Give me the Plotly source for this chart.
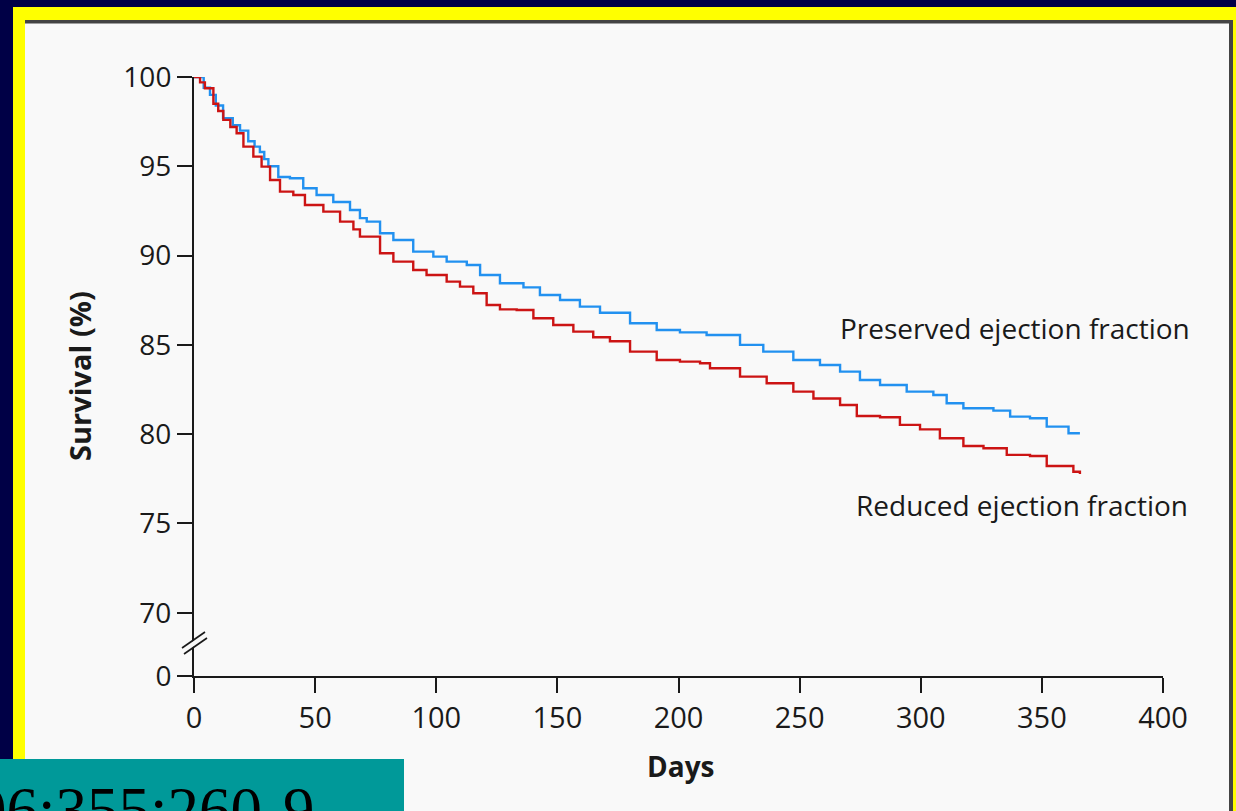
import plotly.graph_objects as go

W, H = 1236, 811

# ---------------- data ----------------
days_preserved = [0, 4, 6.6, 9, 12, 16, 19, 22.4, 25, 27.2, 29, 30.7, 34.8, 39.6, 45.1, 50.6,
                  57.5, 64.4, 68.5, 71.3, 76.8, 82.3, 90.5, 98.8, 104.3, 112.6, 118.1, 126.3,
                  136, 142.8, 151.1, 159.3, 167.6, 180, 191, 200.6, 211.6, 225.4, 235, 247.4,
                  258.4, 266.7, 274.9, 283.2, 294.2, 305.2, 310.7, 317.6, 330, 336.9, 345.1,
                  352, 361, 365.7]
surv_preserved = [100, 99.4, 99.0, 98.4, 97.7, 97.3, 97.0, 96.4, 96.1, 95.8, 95.4, 95.0, 94.4,
                  94.33, 93.77, 93.39, 93.0, 92.55, 92.1, 91.9, 91.25, 90.87, 90.22, 89.94,
                  89.66, 89.47, 88.91, 88.45, 88.22, 87.79, 87.51, 87.14, 86.8, 86.21, 85.83,
                  85.7, 85.55, 85.0, 84.62, 84.15, 83.87, 83.5, 83.03, 82.75, 82.38, 82.19,
                  81.73, 81.45, 81.32, 80.98, 80.89, 80.42, 80.05, 80.05]

days_reduced = [0, 2.5, 4.5, 8, 10, 12.1, 15, 17.6, 20.4, 24.5, 27.9, 31.4, 35.5, 41, 45.8,
                53.4, 60.3, 65.8, 68.5, 76.8, 82.3, 90.5, 96, 104.3, 109.8, 115.3, 120.8,
                126.3, 133.2, 140.1, 148.3, 156.6, 164.8, 171.7, 180, 191, 200.6, 208.9, 213,
                225.4, 236.4, 247.4, 255.7, 266.7, 273.6, 283.2, 291.4, 299.7, 307.9, 317.6,
                325.9, 335.5, 345.1, 352, 363, 365.7]
surv_reduced = [100, 99.7, 99.37, 98.5, 98.1, 97.6, 97.2, 96.85, 96.1, 95.54, 94.98, 94.23,
                93.58, 93.39, 92.83, 92.46, 91.9, 91.47, 91.06, 90.13, 89.66, 89.19, 88.91,
                88.54, 88.26, 87.89, 87.23, 86.99, 86.95, 86.49, 86.11, 85.74, 85.43, 85.2,
                84.62, 84.15, 84.06, 83.97, 83.69, 83.22, 82.85, 82.38, 82.0, 81.63, 81.02,
                80.95, 80.52, 80.27, 79.77, 79.34, 79.21, 78.84, 78.78, 78.22, 77.9, 77.77]

x_ticks = [0, 50, 100, 150, 200, 250, 300, 350, 400]
y_tick_labels = ["0", "70", "75", "80", "85", "90", "95", "100"]
series_names = ["Preserved ejection fraction", "Reduced ejection fraction"]
citation = "06;355:260-9"

# broken axis: the "0" label sits just below the 70 tick
Y_BREAK_BOTTOM = 66.46
y_tick_vals = [Y_BREAK_BOTTOM, 70, 75, 80, 85, 90, 95, 100]

# ---------------- styling ----------------
NAVY = "#000046"
YELLOW = "#ffff00"
PANEL = "#f9f9f9"
BORDER = "#444444"
TEAL = "#009999"
BLUE = "#2291f0"
RED = "#cc1414"
INK = "#1a1a1a"
FONT = "Open Sans"


def px(x):
    return x / W


def py(y):
    return 1 - y / H


fig = go.Figure()
fig.add_trace(go.Scatter(x=days_preserved, y=surv_preserved, mode="lines",
                         line=dict(color=BLUE, width=2.4, shape="hv"),
                         name=series_names[0], showlegend=False))
fig.add_trace(go.Scatter(x=days_reduced, y=surv_reduced, mode="lines",
                         line=dict(color=RED, width=2.4, shape="hv"),
                         name=series_names[1], showlegend=False))

shapes = [
    # yellow frame
    dict(type="rect", xref="paper", yref="paper", x0=px(13), x1=px(W), y0=py(H), y1=py(7),
         fillcolor=YELLOW, line=dict(width=0), layer="below"),
    # light panel
    dict(type="rect", xref="paper", yref="paper", x0=px(25), x1=px(1233), y0=py(H), y1=py(20),
         fillcolor=PANEL, line=dict(width=0), layer="below"),
    # dark top border
    dict(type="rect", xref="paper", yref="paper", x0=px(25), x1=px(1233), y0=py(23.5), y1=py(20),
         fillcolor=BORDER, line=dict(width=0), layer="below"),
    # dark right border
    dict(type="rect", xref="paper", yref="paper", x0=px(1229), x1=px(1233), y0=py(H), y1=py(20),
         fillcolor=BORDER, line=dict(width=0), layer="below"),
    # teal citation box
    dict(type="rect", xref="paper", yref="paper", x0=px(0), x1=px(404), y0=py(H), y1=py(759),
         fillcolor=TEAL, line=dict(width=0), layer="above"),
    # axis break: mask + two slashes
    dict(type="line", xref="paper", yref="paper", x0=px(183), y0=py(651), x1=px(206), y1=py(635),
         line=dict(color=PANEL, width=5), layer="above"),
    dict(type="line", xref="paper", yref="paper", x0=px(182), y0=py(648), x1=px(205), y1=py(632),
         line=dict(color=INK, width=1.6), layer="above"),
    dict(type="line", xref="paper", yref="paper", x0=px(184), y0=py(654), x1=px(207), y1=py(638),
         line=dict(color=INK, width=1.6), layer="above"),
]

annotations = [
    dict(text=series_names[0], xref="paper", yref="paper", x=px(1192), y=py(328),
         xanchor="right", yanchor="middle", showarrow=False,
         font=dict(family=FONT, size=28, color=INK)),
    dict(text=series_names[1], xref="paper", yref="paper", x=px(1190), y=py(505),
         xanchor="right", yanchor="middle", showarrow=False,
         font=dict(family=FONT, size=28, color=INK)),
    dict(text="<b>Survival (%)</b>", xref="paper", yref="paper", x=px(79), y=py(376),
         xanchor="center", yanchor="middle", textangle=-90, showarrow=False,
         font=dict(family=FONT, size=29, color=INK)),
    dict(text="<b>Days</b>", xref="paper", yref="paper", x=px(680), y=py(766),
         xanchor="center", yanchor="middle", showarrow=False,
         font=dict(family=FONT, size=28, color=INK)),
    dict(text=citation, xref="paper", yref="paper", x=px(317), y=py(773),
         xanchor="right", yanchor="top", showarrow=False,
         font=dict(family="Liberation Serif", size=63, color="#000000")),
]

fig.update_layout(
    template="none",
    width=W, height=H,
    margin=dict(l=0, r=0, t=0, b=0, pad=0, autoexpand=False),
    paper_bgcolor=NAVY,
    plot_bgcolor="rgba(0,0,0,0)",
    shapes=shapes,
    annotations=annotations,
    showlegend=False,
    xaxis=dict(domain=[px(194), px(1163)], range=[0, 400], tickvals=x_ticks,
               automargin=False,
               showgrid=False, zeroline=False, showline=True, linecolor=INK, linewidth=2,
               ticks="outside", ticklen=15, tickwidth=2, tickcolor=INK,
               tickfont=dict(family=FONT, size=29, color=INK)),
    yaxis=dict(domain=[py(676), py(77)], range=[Y_BREAK_BOTTOM - 0.001, 100],
               tickvals=y_tick_vals, ticktext=y_tick_labels,
               automargin=False,
               showgrid=False, zeroline=False, showline=True, linecolor=INK, linewidth=2,
               ticks="outside", ticklen=15, tickwidth=2, tickcolor=INK,
               tickfont=dict(family=FONT, size=28, color=INK)),
)

# remove the default 8px page margin so the figure fills the window exactly
fig.write_html(
    "out.html",
    config={"displayModeBar": False},
    post_script="document.body.style.margin='0';document.body.style.background='%s';" % NAVY,
)
